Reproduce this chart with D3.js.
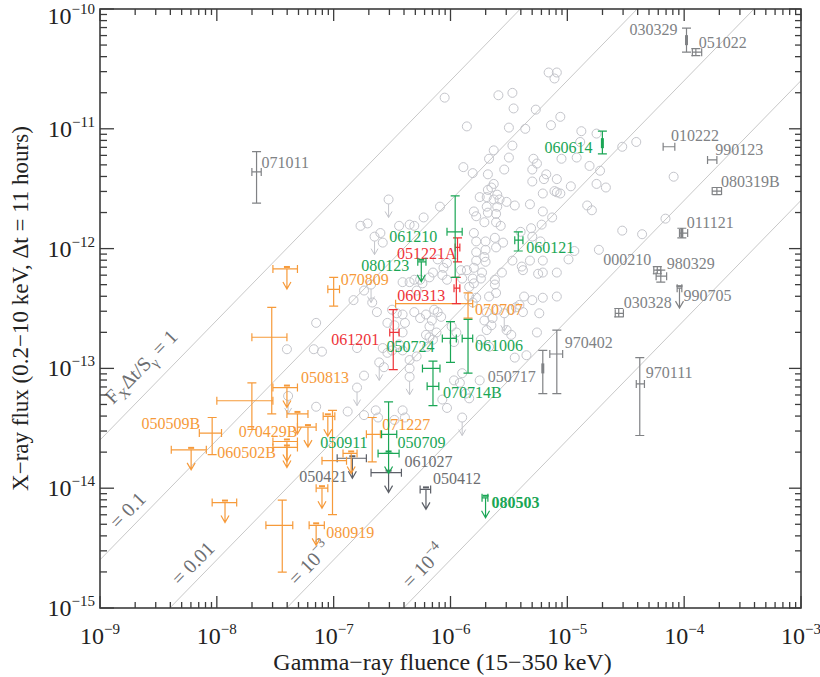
<!DOCTYPE html>
<html>
<head>
<meta charset="utf-8">
<script src="https://cdn.jsdelivr.net/npm/d3@7"></script>
<style>
  body { margin: 0; background: #fff; }
  svg, text { font-family: "Liberation Serif", "DejaVu Serif", serif; }
</style>
</head>
<body>
<svg id="chart" width="820" height="677" font-family="Liberation Serif, DejaVu Serif, serif"></svg>
<script>
// decades on the axes
const xTicks = [1e-9, 1e-8, 1e-7, 1e-6, 1e-5, 1e-4, 1e-3];
const yTicks = [1e-15, 1e-14, 1e-13, 1e-12, 1e-11, 1e-10];
const dtSeconds = 11 * 3600;

// lines of constant F_x * dt / S_gamma
const ratios = [1, 0.1, 0.01, 1e-3, 1e-4];
const ratioText = ['= 1', '= 0.1', '= 0.01', '= 10', '= 10'];
const ratioSup = ['', '', '', '\u22123', '\u22124'];

// Swift bursts, [log10 fluence, log10 flux]
const swiftPoints = [
  [-6.05,-10.74],[-5.59,-10.72],[-5.47,-10.70],[-5.16,-10.53],[-5.09,-10.53],[-5.11,-10.58],
  [-5.46,-10.83],[-5.27,-10.84],[-5.86,-10.98],[-5.50,-10.99],[-5.36,-11.00],[-5.14,-10.97],
  [-5.06,-10.90],[-4.88,-11.02],[-4.75,-11.04],[-4.53,-11.15],[-4.41,-11.11],[-5.63,-11.18],
  [-5.47,-11.14],[-5.67,-11.25],[-5.50,-11.24],[-5.29,-11.25],[-5.26,-11.29],[-5.30,-11.34],
  [-5.05,-11.25],[-4.92,-11.24],[-4.89,-11.11],[-5.89,-11.32],[-5.81,-11.37],[-5.68,-11.38],
  [-5.54,-11.34],[-5.18,-11.38],[-5.20,-11.42],[-5.30,-11.44],[-5.09,-11.42],[-4.81,-11.31],
  [-4.72,-11.35],[-4.75,-11.46],[-4.67,-11.49],[-4.97,-11.48],[-5.63,-11.46],[-5.65,-11.49],
  [-5.68,-11.51],[-5.69,-11.57],[-5.75,-11.57],[-5.60,-11.55],[-5.58,-11.59],[-5.63,-11.59],
  [-5.52,-11.61],[-5.45,-11.64],[-5.32,-11.63],[-5.21,-11.54],[-5.11,-11.52],[-5.09,-11.53],
  [-5.06,-11.54],[-5.21,-11.69],[-5.13,-11.74],[-4.83,-11.64],[-4.79,-11.68],[-6.09,-11.65],
  [-5.80,-11.69],[-5.78,-11.73],[-5.69,-11.65],[-5.68,-11.70],[-5.60,-11.65],[-5.61,-11.71],
  [-5.61,-11.78],[-5.71,-11.78],[-5.57,-11.81],[-6.23,-11.74],[-6.35,-11.80],[-6.31,-11.81],
  [-6.44,-11.81],[-6.77,-11.81],[-6.71,-11.79],[-6.60,-11.87],[-6.58,-11.95],[-5.80,-11.87],
  [-5.78,-11.94],[-5.70,-11.94],[-5.62,-11.91],[-5.55,-11.95],[-5.31,-11.83],[-5.22,-11.80],
  [-5.30,-11.90],[-5.40,-11.86],[-5.23,-11.94],[-4.53,-11.85],[-4.73,-12.01],[-4.94,-12.02],
  [-4.99,-12.09],[-5.09,-12.20],[-5.21,-12.20],[-5.25,-12.21],[-5.32,-12.10],[-5.39,-12.15],
  [-5.38,-12.18],[-5.47,-12.10],[-5.56,-12.20],[-5.70,-12.01],[-5.71,-12.07],[-5.70,-12.11],
  [-5.78,-12.03],[-5.78,-12.10],[-5.61,-11.99],[-5.80,-12.16],[-5.86,-12.18],[-5.73,-12.20],
  [-5.74,-12.25],[-5.62,-12.26],[-5.62,-12.30],[-5.81,-12.25],[-5.80,-12.29],[-5.91,-12.18],
  [-5.90,-12.25],[-5.84,-12.32],[-6.03,-12.12],[-6.06,-12.16],[-6.07,-12.22],[-6.03,-12.26],
  [-6.15,-12.20],[-6.18,-12.24],[-6.24,-12.29],[-6.31,-12.26],[-6.35,-12.28],[-6.41,-12.28],
  [-6.11,-12.09],[-4.36,-11.88],[-4.16,-11.75],[-4.09,-11.40],[-5.21,-12.10],[-5.09,-12.40],
  [-5.24,-12.54],[-6.74,-12.35],[-6.83,-12.43],[-6.67,-12.45],[-6.63,-12.53],[-7.15,-12.62],
  [-7.40,-12.84],[-7.17,-12.84],[-7.10,-12.86],[-6.80,-12.83],[-6.57,-12.99],[-6.74,-13.06],
  [-7.15,-13.32],[-6.88,-13.36],[-6.64,-13.35],[-6.62,-13.41],[-6.41,-13.35],[-6.39,-13.41],
  [-6.50,-12.51],[-6.46,-12.54],[-6.54,-12.62],[-6.48,-12.64],[-6.41,-12.55],[-6.39,-12.62],
  [-6.58,-12.83],[-6.35,-12.93],[-6.35,-13.00],[-6.41,-12.85],[-6.26,-12.26],[-6.29,-12.35],
  [-6.11,-12.53],[-6.08,-12.57],[-6.18,-12.65],[-6.12,-12.70],[-6.18,-12.74],[-5.84,-12.40],
  [-5.78,-12.41],[-5.81,-12.45],[-5.67,-12.40],[-5.61,-12.37],[-5.69,-12.53],[-5.64,-12.58],
  [-5.60,-12.51],[-5.44,-12.49],[-5.38,-12.53],[-5.37,-12.40],[-5.30,-12.43],[-5.21,-12.41],
  [-5.69,-12.68],[-5.52,-12.68],[-5.48,-12.72],[-6.54,-12.87],[-6.50,-12.85],[-6.44,-12.80],
  [-6.29,-12.90],[-6.41,-12.70],[-6.31,-12.53],[-6.26,-12.58],[-6.21,-12.55],[-6.16,-12.60],
  [-6.14,-12.51],[-5.99,-12.65],[-5.95,-12.70],[-5.97,-12.78],[-6.21,-12.72],[-6.15,-12.76],
  [-6.20,-12.82],[-5.71,-12.60],[-5.65,-12.64],[-5.74,-12.76],[-5.67,-12.82],[-5.48,-12.51],
  [-5.41,-12.47],[-5.45,-12.91],[-5.35,-12.89],[-5.26,-12.70],[-5.87,-13.21],[-5.84,-13.25],
  [-6.07,-13.26],[-6.03,-13.33],[-5.97,-13.10],[-5.92,-13.12],[-5.75,-13.10],[-6.74,-13.39],
  [-6.48,-13.43],[-5.90,-13.04]
];
// Swift bursts with flux upper limits
const swiftLimits = [
  [-6.53,-11.59],[-6.65,-11.90],[-6.68,-12.30],[-6.61,-12.95],[-6.80,-13.16],
  [-6.35,-13.07],[-5.54,-12.54],[-5.90,-13.41],[-7.39,-13.23]
];

// labelled bursts: [name, logS, logS lo, logS hi, logF, logF hi, logF lo, upper limit]
const preSwift = [
  ['071011', -7.66, -7.70, -7.62, -11.36, -11.19, -11.62, false],
  ['030329', -3.98, null, null, -10.26, -10.16, -10.36, false],
  ['051022', -3.90, -3.93, -3.85, -10.36, -10.33, -10.39, false],
  ['010222', -4.13, -4.18, -4.08, -11.15, null, null, false],
  ['990123', -3.76, -3.80, -3.72, -11.26, null, null, false],
  ['080319B', -3.72, -3.76, -3.68, -11.52, -11.49, -11.55, false],
  ['011121', -4.02, -4.04, -3.97, -11.87, -11.83, -11.91, false],
  ['000210', -4.23, -4.26, -4.20, -12.18, -12.15, -12.21, false],
  ['980329', -4.20, -4.24, -4.15, -12.23, -12.18, -12.28, false],
  ['990705', -4.04, -4.06, -4.02, -12.33, null, null, true],
  ['030328', -4.56, -4.59, -4.52, -12.54, -12.50, -12.57, false],
  ['970402', -5.09, -5.15, -5.04, -12.88, -12.68, -13.21, false],
  ['050717', -5.21, null, null, -13.00, -12.85, -13.21, false],
  ['970111', -4.38, -4.41, -4.34, -13.13, -12.91, -13.56, false]
];
const shortDark = [
  ['050421', -6.84, -6.97, -6.72, -13.75, null, null, true],
  ['061027', -6.53, -6.68, -6.42, -13.87, null, null, true],
  ['050412', -6.21, -6.26, -6.17, -14.01, null, null, true]
];
const greenBursts = [
  ['060614', -4.70, null, null, -11.12, -11.02, -11.21, false],
  ['061210', -5.96, -6.03, -5.90, -11.86, -11.56, -12.24, false],
  ['060121', -5.42, -5.45, -5.38, -11.93, -11.86, -12.02, false],
  ['080123', -6.25, -6.28, -6.21, -12.11, null, null, true],
  ['050724', -6.00, -6.07, -5.95, -12.75, -12.61, -12.95, false],
  ['061006', -5.85, -5.90, -5.81, -12.75, -12.59, -13.04, false],
  ['070714B', -6.15, -6.24, -6.09, -13.00, -12.94, -13.31, false],
  ['', -6.15, -6.20, -6.10, -13.15, null, null, false],
  ['050709', -6.53, -6.59, -6.46, -13.55, -13.28, -13.71, false],
  ['050911', -6.53, -6.62, -6.44, -13.71, null, null, true],
  ['080503', -5.70, -5.73, -5.68, -14.08, null, null, true]
];
const redBursts = [
  ['051221A', -5.94, -5.96, -5.92, -11.99, -11.91, -12.11, false],
  ['060313', -5.95, -5.97, -5.92, -12.33, -12.24, -12.46, false],
  ['061201', -6.49, -6.52, -6.44, -12.70, -12.51, -13.01, false]
];
const orangeBursts = [
  ['070707', -5.85, -6.47, -5.81, -12.46, -12.37, -12.58, false],
  ['070809', -7.00, -7.05, -6.95, -12.34, -12.24, -12.48, false],
  ['050813', -7.40, -7.52, -7.31, -13.16, null, null, true],
  ['', -7.53, -7.70, -7.40, -12.74, -12.49, -13.38, false],
  ['', -7.70, -8.00, -7.52, -13.27, -13.12, -13.51, false],
  ['', -7.40, -7.52, -7.31, -12.17, null, null, true],
  ['050509B', -8.04, -8.15, -7.96, -13.54, -13.41, -13.72, false],
  ['060502B', -8.22, -8.39, -8.09, -13.68, null, null, true],
  ['070429B', -7.31, -7.40, -7.22, -13.38, null, null, true],
  ['', -7.22, -7.31, -7.15, -13.49, null, null, true],
  ['', -7.40, -7.52, -7.31, -13.61, null, null, true],
  ['', -7.40, -7.52, -7.31, -13.66, null, null, true],
  ['', -7.93, -8.04, -7.83, -14.12, null, null, true],
  ['', -7.44, -7.58, -7.35, -14.31, -14.10, -14.70, false],
  ['', -7.10, -7.15, -7.05, -14.00, null, null, true],
  ['080919', -7.15, -7.21, -7.08, -14.31, null, null, true],
  ['', -7.01, -7.10, -6.89, -13.77, -13.35, -14.22, false],
  ['', -6.85, -6.92, -6.80, -13.71, null, null, true],
  ['', -7.05, -7.09, -6.99, -13.40, null, null, true],
  ['071227', -6.67, -6.72, -6.60, -13.55, -13.41, -13.78, false]
];

// label placement (px from the marker) and styling
const labelPos = {
  '071011': [5, -9, 'start'], '030329': [-9, -11, 'end'], '051022': [3, -10, 'start'],
  '010222': [2, -11, 'start'], '990123': [3, -10, 'start'], '080319B': [4, -10, 'start'],
  '011121': [5, -11, 'start'], '000210': [-6, -11, 'end'], '980329': [6, -13, 'start'],
  '990705': [4, 7, 'start'], '030328': [5, -11, 'start'], '970402': [8, -12, 'start'],
  '050717': [-7, 8, 'end'], '970111': [6, -11, 'start'], '050421': [-5, 18, 'end'],
  '061027': [16, -11, 'start'], '050412': [7, -11, 'start'], '060614': [-10, 4, 'end'],
  '061210': [-18, 5, 'end'], '060121': [8, 7, 'start'], '080123': [-12, 4, 'end'],
  '050724': [-16, 8, 'end'], '061006': [7, 7, 'start'], '070714B': [10, 24, 'start'],
  '050709': [9, 8, 'start'], '050911': [-21, -11, 'end'], '080503': [6, 5, 'start'],
  '051221A': [-1, 6, 'end'], '060313': [-11, 7, 'end'], '061201': [-14, 7, 'end'],
  '070707': [7, 6, 'start'], '070809': [7, -10, 'start'], '050813': [14, -10, 'start'],
  '050509B': [-12, -10, 'end'], '060502B': [26, 3, 'start'], '070429B': [0, 18, 'end'],
  '080919': [10, 7, 'start'], '071227': [10, -10, 'start']
};
const thickCore = ['030329', '060614', '050717', '011121'];

const svg = d3.select('#chart');
const margin = {left: 100, right: 19, top: 9, bottom: 69};
const W = 820, H = 677;
const x = d3.scaleLog().domain([1e-9, 1e-3]).range([margin.left, W - margin.right]);
const y = d3.scaleLog().domain([1e-15, 1e-10]).range([H - margin.bottom, margin.top]);
const x0 = x.range()[0], x1 = x.range()[1], y0 = y.range()[1], y1 = y.range()[0];

svg.append('defs').append('clipPath').attr('id', 'plot')
  .append('rect').attr('x', x0).attr('y', y0).attr('width', x1 - x0).attr('height', y1 - y0);

// ratio lines
const ratioG = svg.append('g').attr('clip-path', 'url(#plot)');
ratios.forEach((k) => {
  const s = [1e-9, 1e-3];
  ratioG.append('line')
    .attr('x1', x(s[0])).attr('y1', y(k * s[0] / dtSeconds))
    .attr('x2', x(s[1])).attr('y2', y(k * s[1] / dtSeconds))
    .attr('stroke', '#c8c8c8').attr('stroke-width', 1);
});

const angle = Math.atan2(y(1e-14) - y(1e-13), x(1e-8) - x(1e-9)) * 180 / Math.PI; // line tilt
const labelAt = [1.6e-9, 1.6e-9, 5.4e-9, 5.4e-8, 5.1e-7];
const labelGap = [15, 8, 8, 8, 8];
ratios.forEach((k, i) => {
  const s = labelAt[i];
  const px = x(s), py = y(k * s / dtSeconds);
  const a = -angle * Math.PI / 180;
  const nx = Math.sin(a), ny = -Math.cos(a);
  const t = svg.append('text')
    .attr('transform', `translate(${px + nx * labelGap[i]},${py + ny * labelGap[i]}) rotate(${-angle})`)
    .attr('fill', '#6d6e71').attr('font-size', 20);
  if (i === 0) {
    t.append('tspan').text('F');
    t.append('tspan').attr('font-size', 14).attr('dy', 5).text('X');
    t.append('tspan').attr('dy', -5).text('\u0394t/S');
    t.append('tspan').attr('font-size', 14).attr('dy', 5).text('\u03b3');
    t.append('tspan').attr('dy', -5).text(' = 1');
  } else {
    t.append('tspan').text(ratioText[i]);
    if (ratioSup[i]) t.append('tspan').attr('font-size', 14).attr('dy', -9).text(ratioSup[i]);
  }
});

// Swift cloud
const cloud = svg.append('g').attr('fill', 'none').attr('stroke', '#c4c5cb').attr('stroke-width', 1);
cloud.selectAll('circle.pt').data(swiftPoints).enter().append('circle')
  .attr('class', 'pt')
  .attr('cx', (d) => x(10 ** d[0])).attr('cy', (d) => y(10 ** d[1])).attr('r', 4.5);
const lim = cloud.selectAll('g.lim').data(swiftLimits).enter().append('g').attr('class', 'lim')
  .attr('transform', (d) => `translate(${x(10 ** d[0])},${y(10 ** d[1])})`);
lim.append('circle').attr('r', 4.5);
lim.append('path').attr('d', 'M0,4.5V18M-3.5,12L0,18L3.5,12');

// error-bar markers
function drawGroup (rows, color, textColor, bold) {
  const g = svg.append('g').attr('stroke', color).attr('stroke-width', 1.2).attr('fill', 'none');
  rows.forEach((r) => {
    const [name, ls, slo, shi, lf, fhi, flo, upper] = r;
    const cx = x(10 ** ls), cy = y(10 ** lf);
    if (slo !== null) {
      const a = x(10 ** slo), b = x(10 ** shi);
      g.append('path').attr('d', `M${a},${cy}H${b}M${a},${cy - 4}V${cy + 4}M${b},${cy - 4}V${cy + 4}`);
    }
    if (fhi !== null) {
      const a = y(10 ** fhi), b = y(10 ** flo);
      g.append('path').attr('d', `M${cx},${a}V${b}M${cx - 4.5},${a}H${cx + 4.5}M${cx - 4.5},${b}H${cx + 4.5}`);
    }
    if (upper) {
      g.append('path').attr('d', `M${cx},${cy}V${cy + 20}M${cx - 4},${cy + 13}L${cx},${cy + 20}L${cx + 4},${cy + 13}`);
      g.append('path').attr('d', `M${cx - 3},${cy - 2}H${cx + 3}`).attr('stroke-width', 2);
    }
    if (thickCore.includes(name)) {
      g.append('path').attr('d', `M${cx},${cy - 5}V${cy + 5}`).attr('stroke-width', 3);
    }
    if (name && labelPos[name]) {
      const [dx, dy, anchor] = labelPos[name];
      svg.append('text').attr('x', cx + dx).attr('y', cy + dy)
        .attr('dominant-baseline', 'central').attr('text-anchor', anchor)
        .attr('font-size', 16).attr('font-weight', bold && name === '080503' ? 'bold' : 'normal')
        .attr('fill', textColor).text(name);
    }
  });
}
drawGroup(preSwift, '#808285', '#808285');
drawGroup(shortDark, '#5d6068', '#6d6e71');
drawGroup(orangeBursts, '#f69a3a', '#f69a3a');
drawGroup(redBursts, '#ee3338', '#ee3338');
drawGroup(greenBursts, '#1aa655', '#1aa655', true);

// axes with inward ticks
const minorX = [], minorY = [];
for (let e = -9; e < -3; e++) for (let m = 2; m < 10; m++) minorX.push(m * 10 ** e);
for (let e = -15; e < -10; e++) for (let m = 2; m < 10; m++) minorY.push(m * 10 ** e);
const axisColor = '#3c3c3c';
function tickLines (g, vals, scale, orient, len) {
  vals.forEach((v) => {
    const p = scale(v);
    if (orient === 'bottom') g.append('line').attr('x1', p).attr('x2', p).attr('y1', y1).attr('y2', y1 - len);
    if (orient === 'top') g.append('line').attr('x1', p).attr('x2', p).attr('y1', y0).attr('y2', y0 + len);
    if (orient === 'left') g.append('line').attr('y1', p).attr('y2', p).attr('x1', x0).attr('x2', x0 + len);
    if (orient === 'right') g.append('line').attr('y1', p).attr('y2', p).attr('x1', x1).attr('x2', x1 - len);
  });
}
const ax = svg.append('g').attr('stroke', axisColor).attr('stroke-width', 1.3);
tickLines(ax, minorX, x, 'bottom', 6); tickLines(ax, xTicks, x, 'bottom', 12);
tickLines(ax, minorX, x, 'top', 6); tickLines(ax, xTicks, x, 'top', 12);
tickLines(ax, minorY, y, 'left', 7); tickLines(ax, yTicks, y, 'left', 14);
tickLines(ax, minorY, y, 'right', 6); tickLines(ax, yTicks, y, 'right', 12);
svg.append('rect').attr('x', x0).attr('y', y0).attr('width', x1 - x0).attr('height', y1 - y0)
  .attr('fill', 'none').attr('stroke', axisColor).attr('stroke-width', 1.6);

// tick labels 10^n
const expo = (v) => '\u2212' + Math.round(-Math.log10(v));
xTicks.forEach((v) => {
  const t = svg.append('text').attr('x', x(v)).attr('y', 644).attr('text-anchor', 'middle')
    .attr('font-size', 24).attr('fill', '#222');
  t.append('tspan').text('10');
  t.append('tspan').attr('font-size', 15).attr('dy', -10).text(expo(v));
});
yTicks.forEach((v) => {
  const t = svg.append('text').attr('x', 95).attr('y', Math.max(y(v) + 8, 24)).attr('text-anchor', 'end')
    .attr('font-size', 24).attr('fill', '#222');
  t.append('tspan').text('10');
  t.append('tspan').attr('font-size', 15).attr('dy', -10).text(expo(v));
});

// axis titles
svg.append('text').attr('x', (x0 + x1) / 2 - 8).attr('y', 670).attr('text-anchor', 'middle')
  .attr('font-size', 24).attr('fill', '#222').text('Gamma\u2212ray fluence (15\u2212350 keV)');
svg.append('text').attr('transform', `translate(28,${(y0 + y1) / 2}) rotate(-90)`)
  .attr('text-anchor', 'middle').attr('font-size', 23).attr('fill', '#222')
  .text('X\u2212ray flux (0.2\u221210 keV, \u0394t = 11 hours)');
</script>
</body>
</html>
